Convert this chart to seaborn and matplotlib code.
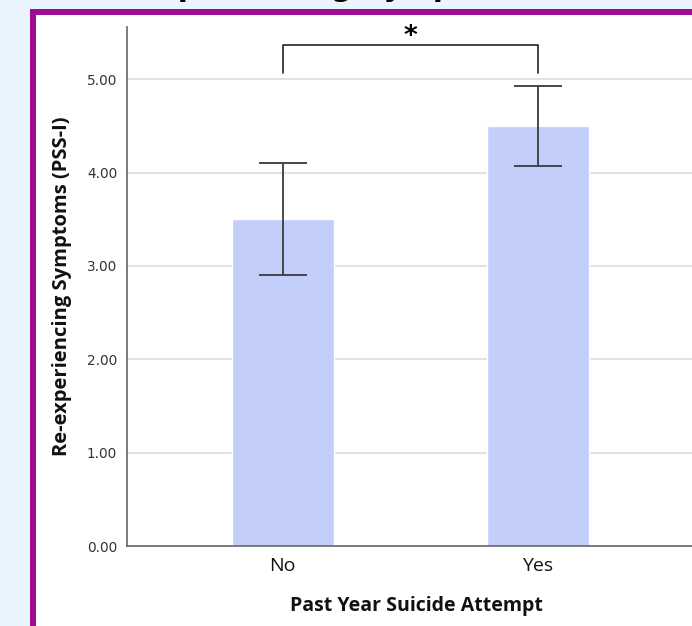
import matplotlib
matplotlib.use("Agg")
import matplotlib.pyplot as plt
import seaborn as sns
import pandas as pd
from matplotlib.patches import Rectangle

# Data
groups = ["No", "Yes"]
means = [3.50, 4.50]
ci_lower = [2.90, 4.07]
ci_upper = [4.10, 4.93]
y_ticks = [0.0, 1.0, 2.0, 3.0, 4.0, 5.0]
title_text = "Re-experiencing Symptoms"
y_label = "Re-experiencing Symptoms (PSS-I)"
x_label = "Past Year Suicide Attempt"
sig_mark = "*"

W, H = 692, 626
DPI = 100
sns.set_theme(style="white")
plt.rcParams["font.family"] = ["DejaVu Sans"]

fig = plt.figure(figsize=(W / DPI, H / DPI), dpi=DPI, facecolor="#eaf4fd")

# purple frame around the chart panel
frame = Rectangle((33 / W, -0.1), 1.2, 1 - 12 / H + 0.1, transform=fig.transFigure,
                  facecolor="white", edgecolor="#9b0c97", linewidth=4.3, zorder=-5)
fig.patches.append(frame)

# title mostly above the visible area
fig.text(85 / W, 1 + 3.5 / H, title_text, fontsize=21, fontweight="bold",
         family="DejaVu Sans", color="black", va="baseline", ha="left")

left, bottom, top = 127 / W, 1 - 546 / H, 1 - 27 / H
right = 706 / W
ax = fig.add_axes([left, bottom, right - left, top - bottom])
ax.set_facecolor("none")
ax.set_zorder(2)

df = pd.DataFrame({"group": groups, "mean": means})
sns.barplot(data=df, x="group", y="mean", color="#c3cefa", width=0.40,
            errorbar=None, ax=ax, zorder=2, saturation=1)

xpos = list(range(len(groups)))
yerr = [[m - lo for m, lo in zip(means, ci_lower)],
        [hi - m for m, hi in zip(means, ci_upper)]]
ax.errorbar(xpos, means, yerr=yerr, fmt="none", ecolor="#3a3a3a",
            elinewidth=1.3, capsize=17.6, capthick=1.3, zorder=3)

ax.set_xlim(-0.61, (706 - 282.5) / 255)
ax.set_ylim(0, 5.56)
ax.set_yticks(y_ticks)
ax.set_yticklabels([f"{v:.2f}" for v in y_ticks], fontsize=9.8, color="#333333")
ax.set_xticks(xpos)
ax.set_xticklabels(groups, fontsize=14, color="#111111", family="Open Sans")
ax.tick_params(axis="y", length=0, pad=7)
ax.tick_params(axis="x", length=0, pad=8)

ax.grid(axis="y", color="#dadada", linewidth=1.1, zorder=0)
ax.set_axisbelow(True)
for side in ["top", "right"]:
    ax.spines[side].set_visible(False)
for side in ["left", "bottom"]:
    ax.spines[side].set_color("#666666")
    ax.spines[side].set_linewidth(1.2)

ax.set_xlabel(x_label, fontsize=14, fontweight="bold", family="Open Sans",
              labelpad=15, color="#111111")
ax.set_ylabel(y_label, fontsize=14.5, fontweight="bold", family="Open Sans",
              color="#111111")
ax.yaxis.set_label_coords(-(127 - 72) / (right * W - 127), 0.5)

# significance bracket between the two groups
ax.plot([0, 0, 1, 1], [5.07, 5.37, 5.37, 5.07], color="#222222", lw=1.2,
        clip_on=False, zorder=4)
ax.text(0.5, 5.31, sig_mark, ha="center", va="bottom", fontsize=19,
        fontweight="bold", color="black", clip_on=False)

fig.savefig("out.png", dpi=DPI, facecolor=fig.get_facecolor())
